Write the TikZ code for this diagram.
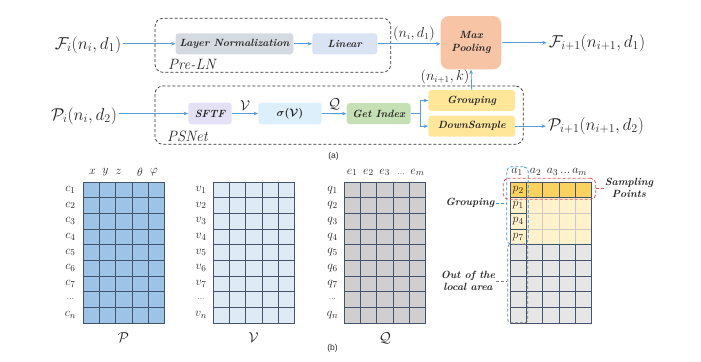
\documentclass[tikz,border=0pt]{standalone}
\usepackage{fontspec}
\usepackage{bm}
\newfontfamily\labsans{Liberation Sans}
\usetikzlibrary{arrows.meta}
\definecolor{arrc}{HTML}{5B9BD5}
\definecolor{lnc}{HTML}{D5DAE1}
\definecolor{linc}{HTML}{DAE3F3}
\definecolor{mpc}{HTML}{F7C4A5}
\definecolor{sftfc}{HTML}{E4E0F6}
\definecolor{sigc}{HTML}{DDEFFB}
\definecolor{gic}{HTML}{C5E0B4}
\definecolor{grpc}{HTML}{FFE699}
\definecolor{pfill}{HTML}{9DC3E6}
\definecolor{vfill}{HTML}{DEEBF7}
\definecolor{qfill}{HTML}{D0CECE}
\definecolor{gold}{HTML}{FBD160}
\definecolor{lyel}{HTML}{FFF2CC}
\definecolor{lgray}{HTML}{E7E6E6}
\definecolor{gridc}{HTML}{44546A}
\definecolor{lgrid}{HTML}{CFCBC0}
\definecolor{txtc}{HTML}{262626}
\definecolor{bdash}{HTML}{3A9AD9}
\definecolor{rdash}{HTML}{F04B5A}
\definecolor{gdash}{HTML}{7F7F7F}
\begin{document}
\begin{tikzpicture}[x=1bp,y=-1bp,
  blk/.style={rounded corners=3bp, inner sep=0pt, minimum height=21bp, text=txtc,
    font=\fontsize{10.5}{13}\selectfont\bfseries\itshape},
  arr/.style={draw=arrc, line width=0.8bp, -{Stealth[length=4.5bp,width=3.6bp]}},
  plainln/.style={draw=arrc, line width=0.8bp},
  dbox/.style={draw=black!80, dash pattern=on 3bp off 2bp, rounded corners=8bp, line width=0.7bp, inner sep=0pt},
  mlab/.style={font=\fontsize{17}{19}\selectfont, inner sep=2bp, text=txtc},
  slab/.style={font=\fontsize{13.5}{15}\selectfont, inner sep=1bp, text=txtc},
  rowl/.style={font=\fontsize{12.5}{14}\selectfont, inner sep=0pt, text=txtc},
  bigl/.style={font=\fontsize{14.5}{16}\selectfont, inner sep=0pt, text=txtc},
  sidel/.style={font=\fontsize{10.5}{11.7}\selectfont\bfseries\itshape, align=center, inner sep=1bp, text=txtc},
  gline/.style={draw=gridc, line width=0.8bp},
  sublab/.style={font=\labsans\fontsize{8.5}{10}\selectfont, inner sep=0pt, text=txtc}
]
\useasboundingbox (0,0) rectangle (701,361);

% ---------- (a) ----------
\node[dbox, minimum width=235.7bp, minimum height=54bp] (preln) at (272.85,45.3) {};
\node[dbox, minimum width=368.3bp, minimum height=58.3bp] (psnet) at (339.15,115.15) {};
\node[anchor=west, font=\fontsize{15}{17}\selectfont\itshape, inner sep=0pt, text=txtc] (prelnl) at (168,64.5) {Pre-LN};
\node[anchor=west, font=\fontsize{15}{17}\selectfont\itshape, inner sep=0pt, text=txtc] (psnetl) at (167,136.5) {PSNet};

\node[mlab] (fi) at (88,45) {$\mathcal{F}_i(n_i,d_1)$};
\node[blk, fill=lnc, minimum width=117.6bp] (lnorm) at (234.5,43.8) {Layer Normalization};
\node[blk, fill=linc, minimum width=65bp] (lin) at (344.8,43.8) {Linear};
\node[blk, fill=mpc, minimum width=60.6bp, minimum height=53.3bp, rounded corners=8bp, align=center] (mp) at (471,42.7) {Max\\Pooling};
\node[mlab] (fo) at (597,43) {$\mathcal{F}_{i+1}(n_{i+1},d_1)$};

\node[mlab] (pi) at (84,116) {$\mathcal{P}_i(n_i,d_2)$};
\node[blk, fill=sftfc, minimum width=43.4bp, minimum height=21.6bp] (sftf) at (210,113.5) {SFTF};
\node[blk, fill=sigc, minimum width=63.4bp, minimum height=21.6bp] (sig) at (290,113.5) {$\bm{\sigma(\mathcal{V})}$};
\node[blk, fill=gic, minimum width=64bp, minimum height=21bp] (gi) at (378.7,113.7) {Get Index};
\node[blk, fill=grpc, minimum width=86.7bp] (grp) at (471.7,100.5) {Grouping};
\node[blk, fill=grpc, minimum width=86.7bp] (ds) at (471.7,126.2) {DownSample};
\node[mlab] (po) at (596,126) {$\mathcal{P}_{i+1}(n_{i+1},d_2)$};

\draw[arr] (fi.east |- lnorm.west) -- (lnorm.west);
\draw[arr] (lnorm) -- (lin);
\draw[arr] (lin.east) -- node[slab, above=1bp, pos=0.58] (l1) {$(n_i,d_1)$} (lin.east -| mp.west);
\draw[arr] (mp.east) -- (mp.east -| fo.west);
\draw[arr] (pi.east |- sftf.west) -- (sftf.west);
\draw[arr] (sftf) -- node[slab, above=2bp] (lv) {$\mathcal{V}$} (sig);
\draw[arr] (sig) -- node[slab, above=2bp] (lq) {$\mathcal{Q}$} (gi);
\coordinate (br) at (420,113.7);
\draw[plainln] (gi.east) -- (br);
\draw[arr] (br) |- (grp.west);
\draw[arr] (br) |- (ds.west);
\draw[arr] (grp.north) -- node[slab, left=0.5bp, pos=0.62] (l2) {$(n_{i+1},k)$} (mp.south);
\draw[arr] (ds.east) -- (ds.east -| po.west);

\node[sublab] (suba) at (333.5,156.5) {(a)};

% ---------- (b) grids ----------
\foreach \x/\c in {83/pfill,213/vfill,344/qfill} {
  \fill[\c] (\x,182) rectangle ++(81.5,141);
  \foreach \i in {0,...,5} \draw[gline] ({\x+\i*16.3},182) -- ++(0,141);
  \foreach \j in {0,...,9} \draw[gline] (\x,{182+\j*15.667}) -- ++(81.5,0);
}
% right grid
\fill[gold] (510,182) rectangle ++(81.5,15.667);
\fill[lyel] (510,197.667) rectangle ++(81.5,47);
\fill[lgray] (510,244.667) rectangle ++(81.5,78.333);
\foreach \i in {0,...,5} \draw[gline] ({510+\i*16.3},182) -- ++(0,141);
\foreach \j in {0,...,9} \draw[gline] (510,{182+\j*15.667}) -- ++(81.5,0);
\foreach \i in {2,...,4} \draw[draw=lgrid, line width=0.8bp] ({510+\i*16.3},198.1) -- ({510+\i*16.3},244.2);
\foreach \j in {2,3} \draw[draw=lgrid, line width=0.8bp] (526.7,{182+\j*15.667}) -- (591.1,{182+\j*15.667});

% row labels
\foreach \x/\l in {70.5/c,201/v,332.5/q} {
  \foreach \k in {1,...,7} \node[rowl] (\l\k) at (\x,{182+(\k-0.5)*15.667}) {$\l_{\k}$};
  \node[rowl, font=\fontsize{8.5}{9}\selectfont] (\l d) at (\x,{182+7.5*15.667}) {...};
  \node[rowl] (\l n) at (\x,{182+8.5*15.667}) {$\l_n$};
}
% column labels
\node[rowl] (hx) at (92.5,172) {$x$};
\node[rowl] (hy) at (105.5,172) {$y$};
\node[rowl] (hz) at (118.5,172) {$z$};
\node[rowl] (ht) at (140,172) {$\theta$};
\node[rowl] (hp) at (154,172) {$\varphi$};
\foreach \i/\t in {1/1,2/2,3/3,5/m} \node[rowl] (e\t) at ({344+(\i-0.5)*16.3},172.5) {$e_{\t}$};
\node[rowl, font=\fontsize{8.5}{9}\selectfont] (ed) at ({344+3.5*16.3},174) {...};
\node[rowl] (a1) at (517,172) {$a_1$};
\node[rowl] (a2) at (535.5,172) {$a_2$};
\node[rowl] (a3m) at (567,172) {$a_3\,$...$\,a_m$};

% cell labels
\node[rowl] (p2) at (518.15,{182+0.5*15.667}) {$p_2$};
\node[rowl] (p1) at (518.15,{182+1.5*15.667}) {$p_1$};
\node[rowl] (p4) at (518.15,{182+2.5*15.667}) {$p_4$};
\node[rowl] (p7) at (518.15,{182+3.5*15.667}) {$p_7$};

% bottom labels
\node[bigl] (bp) at (123.5,338) {$\mathcal{P}$};
\node[bigl] (bv) at (253.5,338) {$\mathcal{V}$};
\node[bigl] (bq) at (385,338) {$\mathcal{Q}$};
\node[sublab] (subb) at (332.5,348.5) {(b)};

% dashed highlight boxes
\node[draw=bdash, dash pattern=on 3bp off 2bp, rounded corners=5bp, line width=0.8bp, inner sep=0pt, minimum width=21.6bp, minimum height=77.6bp] (bluebox) at (517.5,205.5) {};
\node[draw=rdash, dash pattern=on 3bp off 2bp, rounded corners=5bp, line width=0.8bp, inner sep=0pt, minimum width=92.4bp, minimum height=21bp] (redbox) at (549.5,188.8) {};
\node[draw=gdash, dash pattern=on 3bp off 2bp, rounded corners=3bp, line width=0.8bp, inner sep=0pt, minimum width=20bp, minimum height=78.4bp] (graybox) at (517.7,283.5) {};

\node[sidel] (grplbl) at (470,203) {Grouping};
\node[sidel] (smplbl) at (629,188) {Sampling\\Points};
\node[sidel] (outlbl) at (468,281) {Out of the\\local area};
\draw[draw=bdash, dash pattern=on 3bp off 2bp, line width=0.8bp] (grplbl.east) -- (grplbl.east -| bluebox.west);
\draw[draw=rdash, dash pattern=on 3bp off 2bp, line width=0.8bp] (smplbl.west) -- (smplbl.west -| redbox.east);
\draw[draw=gdash, dash pattern=on 3bp off 2bp, line width=0.8bp] (outlbl.east) -- (outlbl.east -| graybox.west);
\end{tikzpicture}
\end{document}
